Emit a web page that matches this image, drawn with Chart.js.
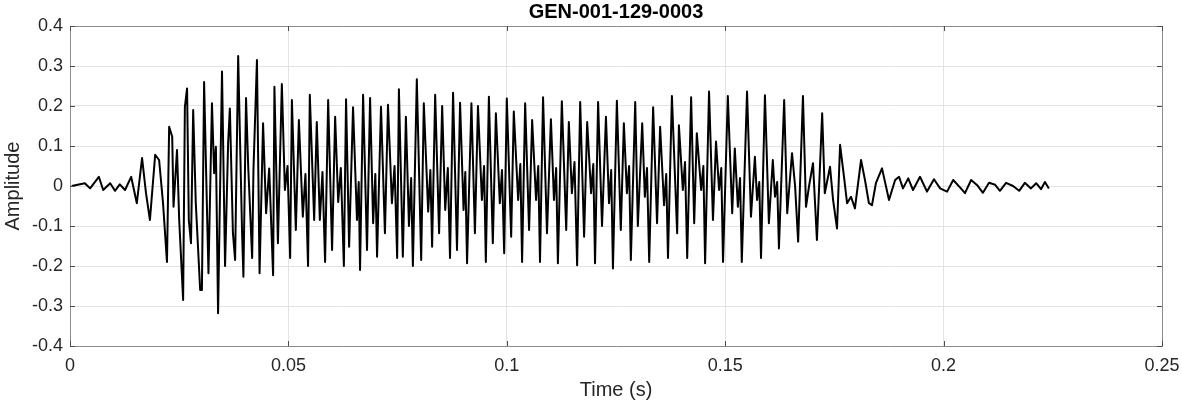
<!DOCTYPE html>
<html>
<head>
<meta charset="utf-8">
<script src="https://cdn.jsdelivr.net/npm/chart.js@4.4.1/dist/chart.umd.min.js"></script>
<style>
  html, body { margin: 0; padding: 0; background: #fff; }
  #wrap { width: 1182px; height: 404px; }
</style>
</head>
<body>
<div id="wrap"><canvas id="wave" width="1182" height="404"></canvas></div>
<script>
// Waveform: time (s) and amplitude at each turning point
const timeValues = [
  0.0004, 0.0034, 0.0046, 0.0066, 0.0076, 0.0092, 0.0103, 0.0114, 0.0126, 0.0140,
  0.0153, 0.0165, 0.0174, 0.0183, 0.0195, 0.0204, 0.0213, 0.0222, 0.0227, 0.0234,
  0.0237, 0.0245, 0.0250, 0.0259, 0.0263, 0.0268, 0.0272, 0.0277, 0.0282, 0.0288,
  0.0298, 0.0302, 0.0307, 0.0314, 0.0317, 0.0325, 0.0330, 0.0334, 0.0339, 0.0348,
  0.0355, 0.0362, 0.0366, 0.0373, 0.0378, 0.0385, 0.0394, 0.0397, 0.0403, 0.0408,
  0.0417, 0.0420, 0.0428, 0.0434, 0.0442, 0.0449, 0.0456, 0.0465, 0.0468, 0.0476,
  0.0485, 0.0492, 0.0498, 0.0504, 0.0508, 0.0517, 0.0524, 0.0533, 0.0539, 0.0545,
  0.0549, 0.0559, 0.0565, 0.0572, 0.0578, 0.0584, 0.0591, 0.0600, 0.0607, 0.0614,
  0.0620, 0.0627, 0.0632, 0.0639, 0.0648, 0.0657, 0.0661, 0.0664, 0.0671, 0.0680,
  0.0687, 0.0694, 0.0699, 0.0703, 0.0712, 0.0721, 0.0728, 0.0737, 0.0743, 0.0749,
  0.0753, 0.0762, 0.0769, 0.0776, 0.0781, 0.0785, 0.0794, 0.0804, 0.0810, 0.0820,
  0.0825, 0.0829, 0.0836, 0.0845, 0.0852, 0.0859, 0.0865, 0.0870, 0.0877, 0.0886,
  0.0893, 0.0901, 0.0905, 0.0909, 0.0919, 0.0927, 0.0934, 0.0943, 0.0948, 0.0952,
  0.0959, 0.0968, 0.0975, 0.0984, 0.0989, 0.0994, 0.1000, 0.1010, 0.1016, 0.1026,
  0.1031, 0.1035, 0.1042, 0.1051, 0.1058, 0.1067, 0.1072, 0.1076, 0.1083, 0.1092,
  0.1101, 0.1108, 0.1113, 0.1117, 0.1126, 0.1136, 0.1142, 0.1149, 0.1155, 0.1161,
  0.1168, 0.1177, 0.1184, 0.1193, 0.1198, 0.1202, 0.1209, 0.1218, 0.1227, 0.1234,
  0.1239, 0.1243, 0.1252, 0.1261, 0.1268, 0.1275, 0.1280, 0.1284, 0.1294, 0.1300,
  0.1310, 0.1316, 0.1321, 0.1326, 0.1335, 0.1344, 0.1351, 0.1360, 0.1365, 0.1369,
  0.1378, 0.1390, 0.1394, 0.1403, 0.1408, 0.1413, 0.1422, 0.1429, 0.1435, 0.1445,
  0.1450, 0.1454, 0.1463, 0.1472, 0.1479, 0.1486, 0.1491, 0.1495, 0.1506, 0.1516,
  0.1522, 0.1529, 0.1534, 0.1538, 0.1550, 0.1559, 0.1568, 0.1573, 0.1578, 0.1582,
  0.1591, 0.1600, 0.1609, 0.1614, 0.1619, 0.1623, 0.1635, 0.1642, 0.1653, 0.1660,
  0.1667, 0.1678, 0.1685, 0.1692, 0.1701, 0.1710, 0.1722, 0.1728, 0.1740, 0.1747,
  0.1756, 0.1763, 0.1772, 0.1779, 0.1788, 0.1797, 0.1811, 0.1820, 0.1829, 0.1836,
  0.1845, 0.1859, 0.1875, 0.1889, 0.1898, 0.1907, 0.1919, 0.1930, 0.1946, 0.1962,
  0.1978, 0.1992, 0.2008, 0.2022, 0.2038, 0.2049, 0.2063, 0.2077, 0.2090, 0.2104,
  0.2118, 0.2129, 0.2143, 0.2159, 0.2173, 0.2186, 0.2200, 0.2212, 0.2223, 0.2232,
  0.2241
];
const amplitudeValues = [
  0.000, 0.007, -0.006, 0.023, -0.010, 0.007, -0.012, 0.004, -0.010, 0.023,
  -0.043, 0.070, -0.018, -0.085, 0.078, 0.065, -0.043, -0.190, 0.148, 0.123,
  -0.052, 0.090, -0.085, -0.285, 0.198, 0.244, -0.085, -0.143, 0.190, -0.043,
  -0.260, -0.260, 0.260, -0.077, -0.218, 0.207, 0.032, 0.098, -0.318, 0.286,
  -0.200, 0.107, 0.194, -0.118, -0.185, 0.325, -0.118, -0.227, 0.220, 0.048,
  -0.180, 0.040, 0.315, -0.218, 0.157, -0.068, 0.044, -0.223, 0.248, -0.143,
  0.255, -0.010, 0.050, -0.180, 0.215, -0.110, 0.165, -0.077, 0.030, -0.200,
  0.228, -0.085, 0.160, -0.085, 0.035, -0.190, 0.215, -0.160, 0.173, -0.040,
  0.045, -0.200, 0.217, -0.152, 0.197, -0.085, 0.010, -0.210, 0.228, -0.160,
  0.220, -0.093, 0.030, -0.177, 0.198, -0.118, 0.203, -0.043, 0.050, -0.180,
  0.242, -0.177, 0.173, -0.100, 0.020, -0.200, 0.267, -0.185, 0.207, -0.064,
  0.040, -0.152, 0.228, -0.118, 0.200, -0.060, 0.045, -0.180, 0.233, -0.160,
  0.208, -0.060, 0.035, -0.193, 0.207, -0.118, 0.200, -0.035, 0.050, -0.190,
  0.223, -0.143, 0.182, -0.043, 0.040, -0.168, 0.219, -0.127, 0.186, -0.035,
  0.055, -0.190, 0.207, -0.110, 0.165, -0.035, 0.050, -0.190, 0.222, -0.118,
  0.167, -0.035, 0.045, -0.193, 0.212, -0.110, 0.160, -0.018, 0.060, -0.198,
  0.210, -0.127, 0.160, -0.018, 0.055, -0.193, 0.210, -0.100, 0.173, -0.043,
  0.040, -0.206, 0.213, -0.110, 0.157, -0.018, 0.050, -0.185, 0.210, -0.100,
  0.157, -0.027, 0.045, -0.190, 0.197, -0.093, 0.148, -0.048, 0.030, -0.180,
  0.225, -0.118, 0.152, -0.010, 0.060, -0.180, 0.222, -0.093, 0.132, -0.010,
  0.050, -0.193, 0.236, -0.085, 0.111, -0.010, 0.045, -0.190, 0.225, -0.068,
  0.094, -0.052, 0.020, -0.190, 0.236, -0.077, 0.073, -0.035, 0.010, -0.180,
  0.227, -0.093, 0.065, -0.027, 0.010, -0.156, 0.215, -0.068, 0.082, 0.000,
  -0.139, 0.225, -0.052, 0.000, 0.057, -0.135, 0.182, -0.018, 0.048, -0.035,
  -0.106, 0.103, 0.023, -0.043, -0.027, -0.056, 0.065, 0.015, -0.043, -0.048,
  0.007, 0.044, -0.035, 0.015, 0.023, -0.006, 0.019, -0.010, 0.023, -0.014,
  0.017, -0.006, -0.014, 0.015, -0.004, -0.018, 0.015, 0.002, -0.017, 0.008,
  0.003, -0.012, 0.008, 0.000, -0.012, 0.008, -0.006, 0.007, -0.008, 0.010,
  -0.006
];

// Axis ticks and labels
const xTickValues = [0, 0.05, 0.1, 0.15, 0.2, 0.25];
const xTickLabels = ['0', '0.05', '0.1', '0.15', '0.2', '0.25'];
const yTickValues = [-0.4, -0.3, -0.2, -0.1, 0, 0.1, 0.2, 0.3, 0.4];
const yTickLabels = ['-0.4', '-0.3', '-0.2', '-0.1', '0', '0.1', '0.2', '0.3', '0.4'];

const chartTitle = 'GEN-001-129-0003';
const xTitle = 'Time (s)';
const yTitle = 'Amplitude';

const FONT = 'Arial, "Liberation Sans", Helvetica, sans-serif';
const AXIS_GRAY = '#8c8c8c';
const GRID_GRAY = '#e3e3e3';
const LABEL_COLOR = '#262626';

function labelFor(values, labels, v) {
  const i = values.findIndex((t) => Math.abs(t - v) < 1e-9);
  return i >= 0 ? labels[i] : '';
}

// MATLAB-style ticks pointing into the plot box
const inwardTicks = {
  id: 'inwardTicks',
  afterDatasetsDraw(chart) {
    const { ctx, chartArea, scales } = chart;
    ctx.save();
    ctx.strokeStyle = '#4d4d4d';
    ctx.lineWidth = 1;
    ctx.beginPath();
    xTickValues.forEach((v) => {
      const px = Math.round(scales.x.getPixelForValue(v)) + 0.5;
      ctx.moveTo(px, chartArea.bottom);
      ctx.lineTo(px, chartArea.bottom - 5);
      ctx.moveTo(px, chartArea.top);
      ctx.lineTo(px, chartArea.top + 5);
    });
    yTickValues.forEach((v) => {
      const py = Math.round(scales.y.getPixelForValue(v)) + 0.5;
      ctx.moveTo(chartArea.left, py);
      ctx.lineTo(chartArea.left + 5, py);
      ctx.moveTo(chartArea.right, py);
      ctx.lineTo(chartArea.right - 5, py);
    });
    ctx.stroke();
    ctx.restore();
  },
};

function renderWaveform() {
  const points = timeValues.map((t, i) => ({ x: t, y: amplitudeValues[i] }));
  const ctx = document.getElementById('wave').getContext('2d');
  new Chart(ctx, {
    type: 'scatter',
    data: {
      datasets: [
        {
          data: points,
          showLine: true,
          borderColor: '#000000',
          borderWidth: 2,
          borderJoinStyle: 'round',
          pointRadius: 0,
          tension: 0,
        },
      ],
    },
    options: {
      responsive: false,
      animation: false,
      layout: { padding: 0, autoPadding: false },
      plugins: {
        legend: { display: false },
        tooltip: { enabled: false },
      },
      scales: {
        x: {
          type: 'linear',
          position: 'bottom',
          min: 0,
          max: 0.25,
          afterBuildTicks: (scale) => {
            scale.ticks = xTickValues.map((v) => ({ value: v }));
          },
          afterFit: (scale) => {
            scale.height = 58;
            // keep the plot box at the same width as the reference
            scale.paddingLeft = 0;
            scale.paddingRight = 0;
          },
          grid: { color: GRID_GRAY, drawTicks: false },
          border: { color: AXIS_GRAY, width: 1 },
          ticks: {
            padding: 9,
            color: LABEL_COLOR,
            font: { family: FONT, size: 18 },
            maxRotation: 0,
            callback: (v) => labelFor(xTickValues, xTickLabels, v),
          },
          title: {
            display: true,
            text: xTitle,
            color: LABEL_COLOR,
            font: { family: FONT, size: 20 },
            padding: { top: 0, bottom: 2 },
          },
        },
        xTop: {
          type: 'linear',
          position: 'top',
          min: 0,
          max: 0.25,
          afterFit: (scale) => {
            scale.height = 26;
            scale.paddingLeft = 0;
            scale.paddingRight = 0;
          },
          grid: { display: false, drawTicks: false },
          border: { color: AXIS_GRAY, width: 1 },
          ticks: { display: false },
          title: {
            display: true,
            text: chartTitle,
            color: '#000000',
            font: { family: FONT, size: 20, weight: 'bold' },
            padding: { top: 0, bottom: 0 },
          },
        },
        y: {
          type: 'linear',
          position: 'left',
          min: -0.4,
          max: 0.4,
          afterBuildTicks: (scale) => {
            scale.ticks = yTickValues.map((v) => ({ value: v }));
          },
          afterFit: (scale) => { scale.width = 70; },
          grid: { color: GRID_GRAY, drawTicks: false },
          border: { color: AXIS_GRAY, width: 1 },
          ticks: {
            padding: 7,
            color: LABEL_COLOR,
            font: { family: FONT, size: 18 },
            callback: (v) => labelFor(yTickValues, yTickLabels, v),
          },
          title: {
            display: true,
            text: yTitle,
            color: LABEL_COLOR,
            font: { family: FONT, size: 20 },
            padding: { top: 1, bottom: 0 },
          },
        },
        yRight: {
          type: 'linear',
          position: 'right',
          min: -0.4,
          max: 0.4,
          afterFit: (scale) => { scale.width = 20; },
          grid: { display: false, drawTicks: false },
          border: { color: AXIS_GRAY, width: 1 },
          ticks: { display: false },
        },
      },
    },
    plugins: [inwardTicks],
  });
}

renderWaveform();
</script>
</body>
</html>
